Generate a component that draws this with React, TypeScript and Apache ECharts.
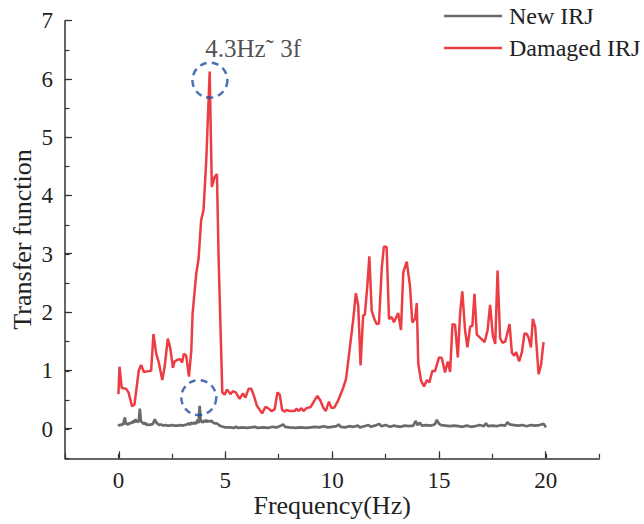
import React, { useEffect, useRef } from "react";
import * as echarts from "echarts";

const seriesNames = ["New IRJ", "Damaged IRJ"];

const newIRJ: [number, number][] = [
  [0.0, 0.05], [0.05, 0.08], [0.1, 0.06], [0.15, 0.09], [0.2, 0.07], [0.25, 0.12], [0.3, 0.2], [0.35, 0.08],
  [0.4, 0.1], [0.45, 0.07], [0.5, 0.11], [0.55, 0.09], [0.6, 0.12], [0.65, 0.1], [0.7, 0.15], [0.75, 0.11],
  [0.8, 0.17], [0.85, 0.12], [0.9, 0.14], [0.95, 0.12], [1.0, 0.35], [1.05, 0.14], [1.1, 0.12], [1.15, 0.1],
  [1.2, 0.09], [1.25, 0.11], [1.3, 0.08], [1.35, 0.07], [1.4, 0.08], [1.5, 0.07], [1.55, 0.09], [1.6, 0.08],
  [1.65, 0.12], [1.7, 0.17], [1.75, 0.13], [1.8, 0.1], [1.85, 0.09], [1.9, 0.07], [2.0, 0.08], [2.1, 0.06],
  [2.2, 0.07], [2.3, 0.06], [2.4, 0.06], [2.5, 0.07], [2.6, 0.06], [2.7, 0.06], [2.8, 0.06], [2.9, 0.07],
  [3.0, 0.06], [3.1, 0.07], [3.2, 0.08], [3.3, 0.1], [3.35, 0.07], [3.4, 0.11], [3.5, 0.09], [3.55, 0.12],
  [3.6, 0.09], [3.65, 0.11], [3.7, 0.16], [3.75, 0.1], [3.8, 0.4], [3.85, 0.12], [3.9, 0.14], [3.95, 0.11],
  [4.0, 0.15], [4.05, 0.12], [4.1, 0.16], [4.15, 0.12], [4.2, 0.14], [4.3, 0.13], [4.35, 0.15], [4.4, 0.12],
  [4.5, 0.1], [4.6, 0.1], [4.7, 0.07], [4.8, 0.05], [4.9, 0.04], [5.0, 0.03], [5.2, 0.03], [5.4, 0.02],
  [5.5, 0.04], [5.6, 0.02], [5.8, 0.03], [6.0, 0.02], [6.2, 0.03], [6.4, 0.04], [6.5, 0.02], [6.8, 0.03],
  [7.0, 0.02], [7.2, 0.04], [7.4, 0.03], [7.6, 0.06], [7.7, 0.08], [7.8, 0.04], [8.0, 0.03], [8.3, 0.02],
  [8.5, 0.03], [8.8, 0.02], [9.0, 0.03], [9.2, 0.04], [9.4, 0.03], [9.6, 0.05], [9.8, 0.03], [10.0, 0.04],
  [10.2, 0.05], [10.3, 0.08], [10.4, 0.04], [10.6, 0.03], [10.8, 0.05], [11.0, 0.04], [11.2, 0.06], [11.3, 0.03],
  [11.5, 0.05], [11.7, 0.07], [11.8, 0.04], [12.0, 0.06], [12.2, 0.09], [12.3, 0.05], [12.5, 0.07], [12.7, 0.04],
  [12.9, 0.06], [13.0, 0.05], [13.2, 0.04], [13.4, 0.06], [13.6, 0.05], [13.8, 0.06], [13.9, 0.14], [14.0, 0.07],
  [14.1, 0.11], [14.2, 0.06], [14.4, 0.07], [14.6, 0.06], [14.8, 0.08], [14.9, 0.16], [15.0, 0.09], [15.1, 0.07],
  [15.3, 0.06], [15.5, 0.05], [15.7, 0.06], [15.9, 0.05], [16.1, 0.04], [16.3, 0.06], [16.5, 0.04], [16.7, 0.05],
  [16.9, 0.07], [17.1, 0.05], [17.2, 0.1], [17.3, 0.05], [17.5, 0.06], [17.7, 0.05], [17.9, 0.07], [18.1, 0.06],
  [18.2, 0.12], [18.3, 0.08], [18.5, 0.07], [18.7, 0.06], [18.9, 0.07], [19.1, 0.05], [19.3, 0.07], [19.5, 0.06],
  [19.7, 0.07], [19.9, 0.09], [20.0, 0.03],
];

const damagedIRJ: [number, number][] = [
  [0, 0.6], [0.05, 1.07], [0.15, 0.71], [0.36, 0.69], [0.47, 0.63], [0.64, 0.39], [0.75, 0.42], [0.95, 1.0],
  [1.06, 1.1], [1.19, 0.98], [1.34, 0.99], [1.53, 1.0], [1.64, 1.63], [1.77, 1.29], [1.89, 1.14], [2.05, 0.84],
  [2.16, 1.06], [2.31, 1.55], [2.42, 1.4], [2.55, 1.05], [2.63, 1.16], [2.78, 1.19], [2.89, 1.2], [2.98, 1.14],
  [3.06, 1.29], [3.17, 1.26], [3.3, 0.9], [3.41, 1.35], [3.47, 1.98], [3.64, 2.66], [3.75, 2.92], [3.87, 3.58],
  [3.98, 3.75], [4.11, 4.61], [4.27, 6.13], [4.37, 4.15], [4.5, 4.32], [4.61, 4.37], [4.69, 2.89], [4.86, 0.63],
  [4.97, 0.59], [5.08, 0.68], [5.24, 0.6], [5.36, 0.65], [5.49, 0.63], [5.67, 0.52], [5.83, 0.61], [5.94, 0.54],
  [6.09, 0.69], [6.22, 0.69], [6.34, 0.57], [6.48, 0.4], [6.72, 0.27], [6.88, 0.38], [7.0, 0.36], [7.16, 0.31],
  [7.31, 0.34], [7.44, 0.63], [7.55, 0.59], [7.66, 0.33], [7.78, 0.3], [7.86, 0.33], [8.02, 0.31], [8.25, 0.31],
  [8.33, 0.35], [8.44, 0.31], [8.56, 0.36], [8.66, 0.31], [8.8, 0.36], [9.0, 0.38], [9.19, 0.5], [9.31, 0.57],
  [9.45, 0.49], [9.58, 0.37], [9.7, 0.31], [9.85, 0.47], [9.97, 0.36], [10.1, 0.37], [10.28, 0.49], [10.52, 0.71],
  [10.65, 0.86], [10.83, 1.4], [10.98, 1.86], [11.11, 2.33], [11.22, 2.12], [11.33, 1.09], [11.45, 1.95], [11.53, 1.96],
  [11.64, 2.43], [11.74, 2.96], [11.85, 2.03], [11.97, 1.89], [12.08, 1.8], [12.19, 1.81], [12.32, 2.75], [12.42, 3.13],
  [12.55, 3.12], [12.66, 1.89], [12.78, 1.92], [12.89, 1.83], [13.09, 1.99], [13.22, 1.7], [13.33, 2.69], [13.49, 2.87],
  [13.64, 2.46], [13.75, 1.83], [13.88, 1.89], [13.96, 2.16], [14.03, 1.12], [14.16, 0.83], [14.3, 0.73], [14.43, 0.84],
  [14.55, 0.8], [14.69, 1.0], [14.81, 0.99], [15.0, 1.23], [15.13, 1.22], [15.28, 0.97], [15.41, 1.16], [15.52, 0.98],
  [15.63, 1.8], [15.75, 1.79], [15.88, 1.23], [15.99, 2.0], [16.09, 2.36], [16.22, 1.69], [16.33, 1.4], [16.46, 1.76],
  [16.56, 1.77], [16.66, 2.32], [16.77, 1.62], [16.97, 1.55], [17.13, 1.49], [17.27, 1.69], [17.39, 2.13], [17.52, 1.6],
  [17.63, 1.46], [17.74, 2.72], [17.86, 1.56], [17.97, 1.48], [18.1, 1.5], [18.3, 1.8], [18.41, 1.31], [18.52, 1.26],
  [18.61, 1.32], [18.75, 1.16], [18.88, 1.32], [19.0, 1.64], [19.11, 1.63], [19.19, 1.57], [19.3, 1.4], [19.39, 1.89],
  [19.5, 1.75], [19.66, 0.94], [19.77, 1.09], [19.89, 1.49],
];

const highlightPoints: [number, number][] = [
  [4.28, 5.98],
  [3.76, 0.54],
];
const annotationText = "4.3Hz\u02DC 3f";

const xTickValues = [0, 5, 10, 15, 20];
const yTickValues = [0, 1, 2, 3, 4, 5, 6, 7];

const FONT = '"Liberation Serif", "Times New Roman", serif';
const TEXT = "#222222";
const AXIS = "#333333";
const GRAY = "#6a6a6a";
const RED = "#ec3c44";

export default function App() {
  const ref = useRef<HTMLDivElement>(null);
  useEffect(() => {
    if (!ref.current) return;
    document.body.style.margin = "0";
    const chart = echarts.init(ref.current, undefined, { renderer: "svg" });
    const hiddenAxis = { show: false };
    chart.setOption({
      animation: false,
      backgroundColor: "#ffffff",
      textStyle: { fontFamily: FONT, color: TEXT },
      legend: {
        data: [
          { name: seriesNames[0], icon: "rect", itemStyle: { color: GRAY } },
          { name: seriesNames[1], icon: "rect", itemStyle: { color: RED } },
        ],
        orient: "vertical",
        left: 444,
        top: 4,
        padding: 0,
        itemWidth: 58,
        itemHeight: 2.5,
        itemGap: 8,
        textStyle: { fontFamily: FONT, fontSize: 24, lineHeight: 24, color: TEXT, padding: [0, 0, 0, 2] },
      },
      grid: [
        { left: 65, right: 44.7, top: 20.7, bottom: 65.7, outerBoundsMode: "none" },
        { left: 65, right: 44.7, top: 20.7, bottom: 95.7, outerBoundsMode: "none" },
        { left: 119, right: 98.3, top: 20.7, bottom: 65.7, outerBoundsMode: "none" },
      ],
      xAxis: [
        {
          type: "value",
          gridIndex: 0,
          min: -2.5,
          max: 22.5,
          interval: 2.5,
          splitLine: { show: false },
          axisLine: { onZero: false, lineStyle: { color: AXIS, width: 1.5 } },
          axisTick: { inside: true, length: 4.5, lineStyle: { color: AXIS, width: 1.2 } },
          axisLabel: {
            fontFamily: FONT,
            fontSize: 23,
            color: TEXT,
            margin: 11,
            formatter: (v: number) => (xTickValues.includes(v) ? String(v) : ""),
          },
          name: "Frequency(Hz)",
          nameLocation: "middle",
          nameGap: 34,
          nameMoveOverlap: false,
          nameTextStyle: { fontFamily: FONT, fontSize: 26, color: TEXT, verticalAlign: "top" },
        },
        { type: "value", gridIndex: 1, min: -2.5, max: 22.5, ...hiddenAxis },
        {
          type: "value",
          gridIndex: 2,
          min: 0,
          max: 20,
          interval: 5,
          splitLine: { show: false },
          axisLine: { show: false, onZero: false },
          axisTick: { inside: true, length: 7, lineStyle: { color: AXIS, width: 1.2 } },
          axisLabel: { show: false },
        },
      ],
      yAxis: [
        {
          type: "value",
          gridIndex: 0,
          min: -0.5,
          max: 7,
          interval: 0.5,
          splitLine: { show: false },
          axisLine: { show: true, onZero: false, lineStyle: { color: AXIS, width: 1.5 } },
          axisTick: { show: true, inside: true, length: 4.5, lineStyle: { color: AXIS, width: 1.2 } },
          axisLabel: {
            fontFamily: FONT,
            fontSize: 23,
            color: TEXT,
            margin: 12,
            formatter: (v: number) => (yTickValues.includes(v) ? String(v) : ""),
          },
          name: "Transfer function",
          nameLocation: "middle",
          nameGap: 30,
          nameMoveOverlap: false,
          nameTextStyle: { fontFamily: FONT, fontSize: 26, color: TEXT },
        },
        {
          type: "value",
          gridIndex: 1,
          min: 0,
          max: 7,
          interval: 1,
          splitLine: { show: false },
          axisLine: { show: false, onZero: false },
          axisTick: { show: true, inside: true, length: 7, lineStyle: { color: AXIS, width: 1.2 } },
          axisLabel: { show: false },
        },
        { type: "value", gridIndex: 2, min: -0.5, max: 7, ...hiddenAxis },
      ],
      series: [
        {
          name: "New IRJ",
          type: "line",
          xAxisIndex: 0,
          yAxisIndex: 0,
          data: newIRJ,
          symbol: "none",
          lineStyle: { color: GRAY, width: 2.7 },
          itemStyle: { color: GRAY },
          z: 2,
        },
        {
          name: "Damaged IRJ",
          type: "line",
          xAxisIndex: 0,
          yAxisIndex: 0,
          data: damagedIRJ,
          symbol: "none",
          lineStyle: { color: RED, width: 2.5 },
          itemStyle: { color: RED },
          z: 3,
        },
        {
          name: "highlight",
          type: "scatter",
          xAxisIndex: 0,
          yAxisIndex: 0,
          symbol: "circle",
          symbolSize: 35,
          silent: true,
          z: 4,
          itemStyle: {
            color: "rgba(0,0,0,0)",
            borderColor: "#1f4ea3",
            borderWidth: 2.5,
            borderType: [7, 5],
          },
          data: [
            {
              value: highlightPoints[0],
              label: {
                show: true,
                formatter: annotationText,
                position: [14, -13],
                align: "left",
                verticalAlign: "middle",
                fontFamily: FONT,
                fontSize: 25,
                color: TEXT,
              },
            },
            { value: highlightPoints[1] },
          ],
        },
      ],
    });
    return () => chart.dispose();
  }, []);
  return <div ref={ref} style={{ width: 644, height: 524 }} />;
}
